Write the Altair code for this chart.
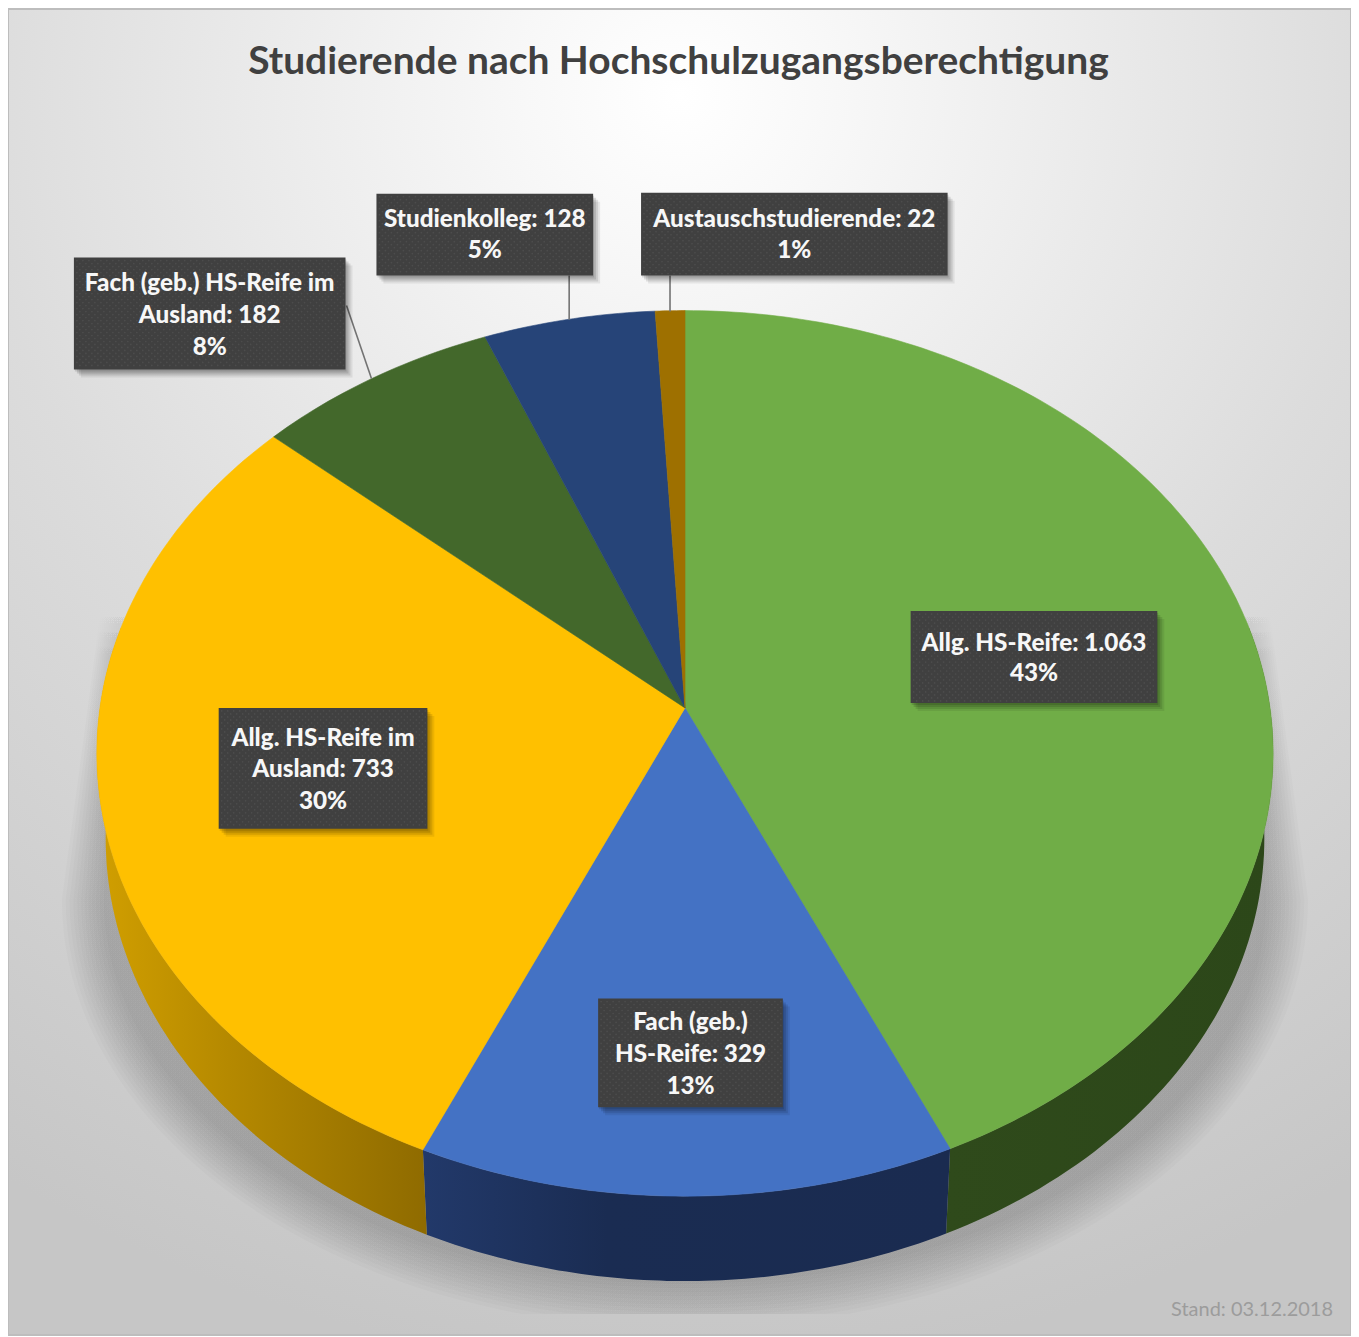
import numpy as np
import pandas as pd
import altair as alt

# ---- chart values
categories = ["Allg. HS-Reife", "Fach (geb.) HS-Reife", "Allg. HS-Reife im Ausland",
              "Fach (geb.) HS-Reife im Ausland", "Studienkolleg", "Austauschstudierende"]
values = [1063, 329, 733, 182, 128, 22]
percents = ["43%", "13%", "30%", "8%", "5%", "1%"]
label_lines = [
    ["Allg. HS-Reife: 1.063", "43%"],
    ["Fach (geb.)", "HS-Reife: 329", "13%"],
    ["Allg. HS-Reife im", "Ausland: 733", "30%"],
    ["Fach (geb.) HS-Reife im", "Ausland: 182", "8%"],
    ["Studienkolleg: 128", "5%"],
    ["Austauschstudierende: 22", "1%"],
]
title_text = "Studierende nach Hochschulzugangsberechtigung"
stand_text = "Stand: 03.12.2018"

# ---- styles
top_colors = ["#70ad47", "#4472c4", "#ffc000", "#43682b", "#264478", "#9e7000"]
wall_stops = [
    [("#2f4a1b", 0), ("#2c4719", 1)],
    [("#22396a", 0), ("#1a2c52", 0.35), ("#1a2b50", 1)],
    [("#d19f00", 0), ("#b58900", 0.4), ("#8f6b00", 1)],
]
FONT = "Lato"

# ---- perspective of the pie (ellipse under a homography)
CX, CY, A, B, K = 686.0, 708.0, 585.9, 438.8, 0.1026
DEPTH, SHRINK = 85.0, 0.985


def rim(frac):
    t = 2 * np.pi * np.asarray(frac)
    d = 1 + K * np.cos(t)
    return CX + A * np.sin(t) / d, CY - B * np.cos(t) / d


total = sum(values)
edges = np.concatenate([[0], np.cumsum(values)]) / total

X = alt.X("x:Q", axis=None, scale=alt.Scale(domain=[8, 1353], nice=False, zero=False))
Y = alt.Y("y:Q", axis=None, scale=alt.Scale(domain=[8, 1337], nice=False, zero=False, reverse=True))
X2 = alt.X2("x2:Q")
Y2 = alt.Y2("y2:Q")


def poly(xs, ys, fill, opacity=1.0, stroke=True):
    df = pd.DataFrame({"x": np.round(xs, 1), "y": np.round(ys, 1), "seq": np.arange(len(xs))})
    kw = dict(stroke=fill, strokeWidth=0.6) if (stroke and isinstance(fill, str)) else dict(strokeWidth=0)
    return alt.Chart(df).mark_line(fill=fill, interpolate="linear-closed", opacity=opacity, **kw).encode(
        x=X, y=Y, order=alt.Order("seq:Q"))


def rects(df, color, opacity=1.0, **kw):
    return alt.Chart(df).mark_rect(color=color, opacity=opacity, **kw).encode(x=X, x2=X2, y=Y, y2=Y2)


layers = []

# background
bg = {"gradient": "radial", "x1": 0.5, "y1": 0.07, "r1": 0.0, "x2": 0.5, "y2": 0.07, "r2": 0.95,
      "stops": [{"offset": 0, "color": "#ffffff"}, {"offset": 0.12, "color": "#f8f8f8"},
                {"offset": 0.55, "color": "#dcdcdc"}, {"offset": 1, "color": "#c6c6c6"}]}
frame = pd.DataFrame({"x": [8], "x2": [1353], "y": [8], "y2": [1336]})
layers.append(alt.Chart(frame).mark_rect(fill=bg, stroke="#bdbdbd", strokeWidth=2).encode(x=X, x2=X2, y=Y, y2=Y2))

# ground shadow: nested shapes give a soft edge, fading out towards the top
N_SHADOW = 12
shadow_fill = {"gradient": "linear", "x1": 0, "y1": 0, "x2": 0, "y2": 1,
               "stops": [{"offset": 0, "color": "rgba(0,0,0,0)"},
                         {"offset": 0.07, "color": "rgba(0,0,0,0.016)"},
                         {"offset": 0.25, "color": "rgba(0,0,0,0.021)"},
                         {"offset": 1, "color": "rgba(0,0,0,0.021)"}]}
ang = np.linspace(np.pi, 2 * np.pi, 90)
for i in range(N_SHADOW):
    s = i / (N_SHADOW - 1)
    rx, ry, hw = 624 - 42 * s, 430 - 45 * s, 585 - 18 * s
    ex = CX + rx * np.cos(ang)
    ey = np.minimum(900 - ry * np.sin(ang), 1315)
    xs = np.concatenate([[CX - hw], ex, [CX + hw]])
    ys = np.concatenate([[610], ey, [610]])
    layers.append(poly(xs, ys, shadow_fill, 1.0, stroke=False))

# side walls
for i, (f0, f1, stops) in enumerate([(0.22, edges[1], wall_stops[0]),
                                     (edges[1], edges[2], wall_stops[1]),
                                     (edges[2], 0.78, wall_stops[2])]):
    fr = np.linspace(f0, f1, 70)
    rx_, ry_ = rim(fr)
    bx = CX + (rx_ - CX) * SHRINK
    by = ry_ + DEPTH
    xs = np.concatenate([rx_, bx[::-1]])
    ys = np.concatenate([ry_, by[::-1]])
    grad = {"gradient": "linear", "x1": 0, "y1": 0, "x2": 1, "y2": 0,
            "stops": [{"offset": o, "color": c} for c, o in stops]}
    layers.append(poly(xs, ys, grad))

# top faces, drawn from the values
for i, c in enumerate(top_colors):
    n = max(8, int(values[i] / total * 400))
    rx_, ry_ = rim(np.linspace(edges[i], edges[i + 1], n))
    layers.append(poly(np.concatenate([[CX], rx_]), np.concatenate([[CY], ry_]), c))

# leader lines
leaders = pd.DataFrame({"x": [347, 570, 671], "y": [305, 275, 275], "x2": [372, 570, 671], "y2": [378, 319, 311]})
layers.append(alt.Chart(leaders).mark_rule(color="#737373", strokeWidth=1.6).encode(x=X, x2=X2, y=Y, y2=Y2))

# label boxes
box_left = [912, 599, 219, 74, 377, 642]
box_right = [1159, 784, 428, 346, 594, 949]
box_top = [611, 999, 708, 257, 193, 192]
box_bottom = [703, 1108, 829, 369, 275, 275]
line_centers = [[642, 673], [1022, 1054, 1086], [738, 769, 801], [282, 314, 346], [218, 249], [218, 249]]

boxes = pd.DataFrame({"x": box_left, "x2": box_right, "y": box_top, "y2": box_bottom})
for off, op in [(2, 0.12), (4, 0.12), (6, 0.10), (8, 0.07)]:
    sh = boxes + [off - 1, off - 1, off, off]
    layers.append(rects(sh, "#000000", op))
layers.append(rects(boxes, "#404040"))

dots = []
for l, r, t, b in zip(box_left, box_right, box_top, box_bottom):
    for row, yy in enumerate(np.arange(t + 3, b - 1, 3.0)):
        for xx in np.arange(l + 3 + (row % 2) * 3, r - 1, 6.0):
            dots.append((xx, yy))
dots = pd.DataFrame(dots, columns=["x", "y"])
layers.append(alt.Chart(dots).mark_circle(size=3, color="#555555", opacity=0.6).encode(x=X, y=Y))

rows = []
for lines, ys, l, r in zip(label_lines, line_centers, box_left, box_right):
    for t, yy in zip(lines, ys):
        rows.append({"text": t, "x": (l + r) / 2, "y": yy})
layers.append(alt.Chart(pd.DataFrame(rows)).mark_text(
    font=FONT, fontWeight=900, fontSize=24.3, color="#f7f7f7", align="center", baseline="middle", dy=1.5
).encode(x=X, y=Y, text="text:N"))

# title and note
layers.append(alt.Chart(pd.DataFrame({"text": [title_text], "x": [679.5], "y": [61]})).mark_text(
    font=FONT, fontWeight="bold", fontSize=39, color="#404040", align="center", baseline="middle"
).encode(x=X, y=Y, text="text:N"))
layers.append(alt.Chart(pd.DataFrame({"text": [stand_text], "x": [1335], "y": [1311]})).mark_text(
    font=FONT, fontSize=20, color="#9c9c9c", align="right", baseline="middle"
).encode(x=X, y=Y, text="text:N"))

chart = alt.layer(*layers).properties(
    width=1345, height=1329, padding=0, autosize=alt.AutoSizeParams(type="none"), background="#ffffff"
).configure_view(stroke=None)

chart.save("out.html", embed_options={"renderer": "svg", "actions": False})
